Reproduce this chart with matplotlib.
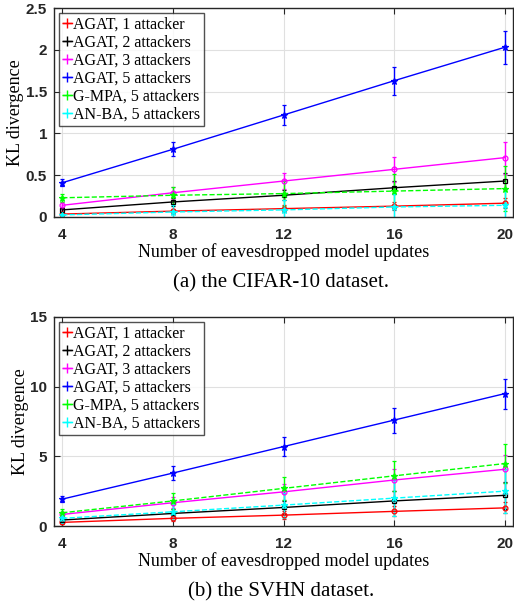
import matplotlib
matplotlib.use("Agg")
import matplotlib.pyplot as plt
from matplotlib.lines import Line2D
import numpy as np

x = [4, 8, 12, 16, 20]

labels = ["AGAT, 1 attacker", "AGAT, 2 attackers", "AGAT, 3 attackers",
          "AGAT, 5 attackers", "G-MPA, 5 attackers", "AN-BA, 5 attackers"]
colors = ["#ff0000", "#000000", "#ff00ff", "#0000ff", "#00ff00", "#00ffff"]
markers = ["o", "s", "o", "*", "*", "*"]
styles = ["-", "-", "-", "-", "--", "--"]

# CIFAR-10
cifar_mean = [
    [0.035, 0.07, 0.10, 0.13, 0.165],
    [0.085, 0.18, 0.26, 0.35, 0.43],
    [0.14, 0.29, 0.43, 0.57, 0.71],
    [0.41, 0.81, 1.22, 1.63, 2.03],
    [0.23, 0.26, 0.28, 0.31, 0.34],
    [0.025, 0.06, 0.085, 0.12, 0.14],
]
cifar_err = [
    [0.02, 0.03, 0.04, 0.05, 0.06],
    [0.03, 0.05, 0.06, 0.08, 0.10],
    [0.04, 0.07, 0.10, 0.15, 0.19],
    [0.04, 0.085, 0.12, 0.17, 0.20],
    [0.05, 0.10, 0.15, 0.20, 0.27],
    [0.04, 0.08, 0.12, 0.16, 0.20],
]

# SVHN
svhn_mean = [
    [0.26, 0.55, 0.78, 1.05, 1.30],
    [0.43, 0.90, 1.33, 1.80, 2.20],
    [0.83, 1.67, 2.45, 3.30, 4.07],
    [1.93, 3.80, 5.70, 7.60, 9.50],
    [0.95, 1.80, 2.70, 3.60, 4.48],
    [0.55, 1.02, 1.50, 2.00, 2.50],
]
svhn_err = [
    [0.10, 0.20, 0.28, 0.35, 0.40],
    [0.15, 0.30, 0.50, 0.70, 0.95],
    [0.20, 0.40, 0.60, 0.80, 1.00],
    [0.20, 0.50, 0.67, 0.90, 1.07],
    [0.25, 0.55, 0.80, 1.10, 1.40],
    [0.30, 0.60, 0.90, 1.30, 1.60],
]

captions = ["(a) the CIFAR-10 dataset.", "(b) the SVHN dataset."]
ylims = [2.5, 15]
yticks_list = [[0, 0.5, 1, 1.5, 2, 2.5], [0, 5, 10, 15]]
ytick_labels = [["0", "0.5", "1", "1.5", "2", "2.5"], ["0", "5", "10", "15"]]

serif = ["Liberation Serif", "DejaVu Serif"]
sans = ["Liberation Sans", "DejaVu Sans"]

fig = plt.figure(figsize=(5.14, 6.10), dpi=100)
W, H = 514, 610
axes_px = [(54, 8, 513, 217), (54, 317, 513, 526)]

for k, (means, errs) in enumerate([(cifar_mean, cifar_err), (svhn_mean, svhn_err)]):
    l, t, r, b = axes_px[k]
    ax = fig.add_axes([l / W, 1 - b / H, (r - l) / W, (b - t) / H])
    for i in range(6):
        ax.errorbar(x, means[i], yerr=errs[i], color=colors[i], linestyle=styles[i],
                    marker=markers[i], markersize=4.5 if markers[i] == "*" else 3.5,
                    markerfacecolor="none" if markers[i] in ("o", "s") else colors[i],
                    markeredgewidth=0.9,
                    linewidth=1.0, elinewidth=1.0, capsize=1.5)
    ax.set_xlim(3.7, 20.3)
    ax.set_ylim(0, ylims[k])
    ax.set_xticks(x)
    ax.set_xticklabels([str(v) for v in x], fontfamily=sans, fontweight="bold", fontsize=11)
    ax.set_yticks(yticks_list[k])
    ax.set_yticklabels(ytick_labels[k], fontfamily=sans, fontweight="bold", fontsize=11)
    ax.grid(True, color="#e0e0e0", linewidth=0.8)
    ax.set_axisbelow(True)
    ax.tick_params(direction="in", top=True, right=True, length=4, width=0.8,
                   colors="#262626")
    ax.tick_params(axis="x", pad=8)
    ax.tick_params(axis="y", pad=5)
    for s in ax.spines.values():
        s.set_color("#262626")
        s.set_linewidth(1.0)
    ax.set_xlabel("Number of eavesdropped model updates", fontfamily=serif,
                  fontsize=13, labelpad=1)
    ax.set_ylabel("KL divergence", fontfamily=serif, fontsize=13, labelpad=1)
    handles = [Line2D([], [], color=colors[i], linestyle="-", marker="+",
                      markersize=7, markeredgewidth=1.0, linewidth=1.0)
               for i in range(6)]
    leg = ax.legend(handles, labels, loc="upper left",
                    prop={"family": serif, "size": 11.5},
                    frameon=True, fancybox=False, handlelength=0.55,
                    handletextpad=0.1, labelspacing=0.12, borderpad=0.25,
                    borderaxespad=0.3)
    leg.get_frame().set_edgecolor("#262626")
    leg.get_frame().set_linewidth(1.0)
    fig.text(0.5 * (l + r) / W - 0.005, 1 - (b + 66) / H, captions[k],
             ha="center", va="center", fontfamily=serif, fontsize=15)

fig.savefig("out.png", dpi=100)
